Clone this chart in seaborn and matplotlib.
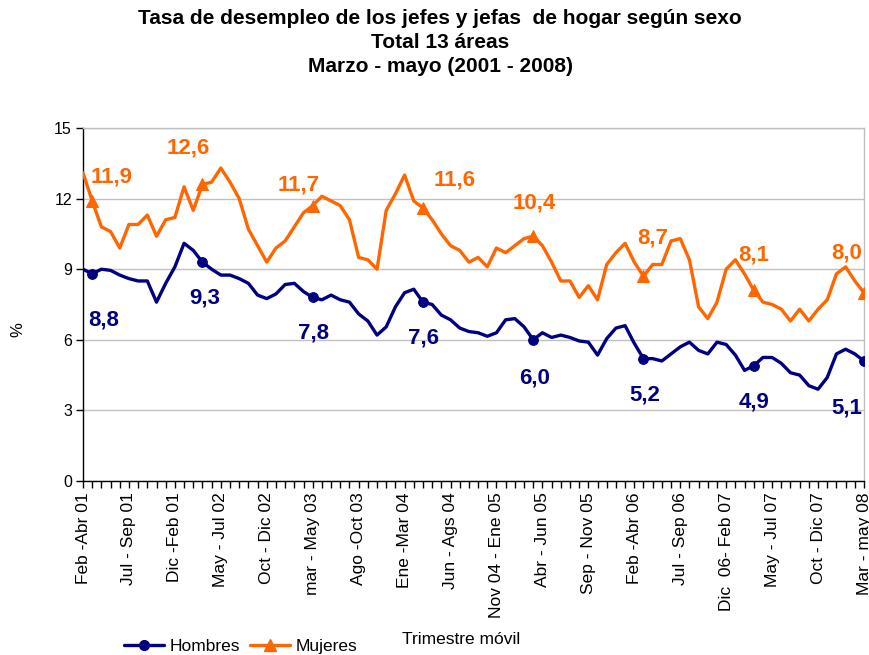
import numpy as np
import pandas as pd
import matplotlib
matplotlib.use("Agg")
import matplotlib.pyplot as plt
import seaborn as sns
from matplotlib.ticker import MultipleLocator
from matplotlib.lines import Line2D

# Moving quarters Feb-Abr 2001 ... Mar-May 2008 (86 points)
hombres = [9.0, 8.8, 9.0, 8.95, 8.75, 8.6, 8.5, 8.5, 7.6, 8.4,
           9.1, 10.1, 9.8, 9.3, 9.0, 8.75, 8.75, 8.6, 8.4, 7.9,
           7.75, 7.95, 8.35, 8.4, 8.05, 7.8, 7.7, 7.9, 7.7, 7.6,
           7.1, 6.8, 6.2, 6.55, 7.4, 8.0, 8.15, 7.6, 7.5, 7.05,
           6.85, 6.5, 6.35, 6.3, 6.15, 6.3, 6.85, 6.9, 6.55, 6.0,
           6.3, 6.1, 6.2, 6.1, 5.95, 5.9, 5.35, 6.05, 6.5, 6.6,
           5.85, 5.2, 5.2, 5.1, 5.4, 5.7, 5.9, 5.55, 5.4, 5.9,
           5.8, 5.35, 4.7, 4.9, 5.25, 5.25, 5.0, 4.6, 4.5, 4.05,
           3.9, 4.4, 5.4, 5.6, 5.4, 5.1]
mujeres = [13.1, 11.9, 10.8, 10.6, 9.9, 10.9, 10.9, 11.3, 10.4, 11.1,
           11.2, 12.5, 11.5, 12.6, 12.7, 13.3, 12.7, 12.0, 10.7, 10.0,
           9.3, 9.9, 10.2, 10.8, 11.4, 11.7, 12.1, 11.9, 11.7, 11.1,
           9.5, 9.4, 9.0, 11.5, 12.2, 13.0, 11.9, 11.6, 11.1, 10.5,
           10.0, 9.8, 9.3, 9.5, 9.1, 9.9, 9.7, 10.0, 10.3, 10.4,
           10.0, 9.3, 8.5, 8.5, 7.8, 8.3, 7.7, 9.2, 9.7, 10.1,
           9.3, 8.7, 9.2, 9.2, 10.2, 10.3, 9.4, 7.4, 6.9, 7.6,
           9.0, 9.4, 8.8, 8.1, 7.6, 7.5, 7.3, 6.8, 7.3, 6.8,
           7.3, 7.7, 8.8, 9.1, 8.5, 8.0]

# Mar-May of each year, labelled points
marcados = [1, 13, 25, 37, 49, 61, 73, 85]
etiquetas_h = ["8,8", "9,3", "7,8", "7,6", "6,0", "5,2", "4,9", "5,1"]
etiquetas_m = ["11,9", "12,6", "11,7", "11,6", "10,4", "8,7", "8,1", "8,0"]

tick_labels = ["Feb -Abr 01", "Jul - Sep 01", "Dic -Feb 01", "May - Jul 02",
               "Oct - Dic 02", "mar - May 03", "Ago -Oct 03", "Ene -Mar 04",
               "Jun - Ags 04", "Nov 04 - Ene 05", "Abr - Jun 05", "Sep - Nov 05",
               "Feb -Abr 06", "Jul - Sep 06", "Dic  06- Feb 07", "May - Jul 07",
               "Oct - Dic 07", "Mar - may 08"]

AZUL = "#000080"
NARANJA = "#FF6600"

sns.set_style("white")
plt.rcParams['font.family'] = ['Liberation Sans', 'DejaVu Sans']
plt.rcParams['text.color'] = 'black'
plt.rcParams['xtick.color'] = 'black'
plt.rcParams['ytick.color'] = 'black'

df = pd.DataFrame({"t": np.arange(len(hombres)), "hombres": hombres, "mujeres": mujeres})

fig = plt.figure(figsize=(8.7, 6.55), dpi=100)
ax = fig.add_axes([83 / 870, 1 - 481 / 655, 781 / 870, 353 / 655])

sns.lineplot(data=df, x="t", y="hombres", color=AZUL, lw=2.4, marker="o", ms=7,
             mec=AZUL, mfc=AZUL, markevery=marcados, errorbar=None, ax=ax, zorder=3)
sns.lineplot(data=df, x="t", y="mujeres", color=NARANJA, lw=2.4, marker="^", ms=8.5,
             mec=NARANJA, mfc=NARANJA, markevery=marcados, errorbar=None, ax=ax, zorder=3)

# data labels
off_m = [(19, 24), (-14, 36), (-14, 21), (32, 28), (1, 33), (9, 38), (0, 35), (-17, 40)]
off_h = [(11, -46), (2, -36), (1, -36), (1, -36), (1, -38), (1, -36), (0, -36), (-17, -47)]
for k, i in enumerate(marcados):
    ax.annotate(etiquetas_m[k], (i, mujeres[i]), xytext=off_m[k], textcoords="offset pixels",
                ha="center", va="center", fontsize=16, fontweight="bold", color=NARANJA)
    ax.annotate(etiquetas_h[k], (i, hombres[i]), xytext=off_h[k], textcoords="offset pixels",
                ha="center", va="center", fontsize=16, fontweight="bold", color=AZUL)

ax.set_xlim(0, 85)
ax.set_ylim(0, 15)
ax.set_yticks(range(0, 16, 3))
ax.set_xticks(range(0, 86, 5))
ax.set_xticklabels(tick_labels, rotation=90, fontsize=12.5)
ax.xaxis.set_minor_locator(MultipleLocator(1))
ax.tick_params(axis="y", labelsize=11.5, direction="out", length=5, width=1, color="black", left=True, pad=3)
ax.tick_params(axis="x", which="both", direction="out", length=5, width=1, color="black", bottom=True, pad=3)
ax.yaxis.grid(True, color="#C0C0C0", lw=1)
ax.set_axisbelow(True)
ax.set_xlabel("")
ax.set_ylabel("")
for s in ["left", "bottom"]:
    ax.spines[s].set_color("black")
    ax.spines[s].set_linewidth(1)
for s in ["top", "right"]:
    ax.spines[s].set_color("#C0C0C0")
    ax.spines[s].set_linewidth(1)

fig.text(18 / 870, 1 - 330 / 655, "%", rotation=90, ha="center", va="center", fontsize=12)

fig.text(0.506, 1 - 18 / 655, "Tasa de desempleo de los jefes y jefas  de hogar según sexo",
         ha="center", va="center", fontsize=15, fontweight="bold")
fig.text(0.506, 1 - 42 / 655, "Total 13 áreas", ha="center", va="center", fontsize=15, fontweight="bold")
fig.text(0.506, 1 - 66 / 655, "Marzo - mayo (2001 - 2008)", ha="center", va="center",
         fontsize=15, fontweight="bold")

fig.text(461 / 870, 1 - 640 / 655, "Trimestre móvil", ha="center", va="center", fontsize=12.5)

handles = [Line2D([], [], color=AZUL, lw=2.4, marker="o", ms=7),
           Line2D([], [], color=NARANJA, lw=2.4, marker="^", ms=8.5)]
fig.legend(handles, ["Hombres", "Mujeres"], loc="center left", bbox_to_anchor=(124 / 870, 1 - 646 / 655),
           frameon=False, ncol=2, fontsize=12.5, handlelength=2.3, handletextpad=0.3,
           columnspacing=0.6, borderpad=0, borderaxespad=0)

fig.savefig("out.png", dpi=100)
